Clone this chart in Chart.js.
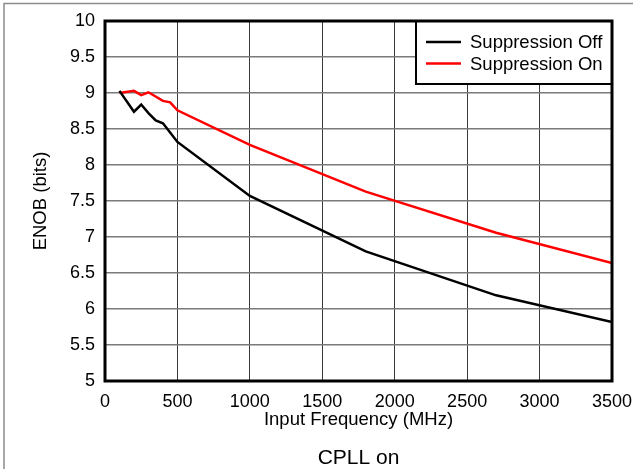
<!DOCTYPE html>
<html>
<head>
<meta charset="utf-8">
<script src="https://cdn.jsdelivr.net/npm/chart.js@4"></script>
<style>
    html, body { margin: 0; padding: 0; background: #fff; overflow: hidden; }
    #wrap { width: 633px; height: 469px; }
</style>
</head>
<body>
<div id="wrap"><canvas id="enob-chart" width="633" height="469"></canvas></div>
<script>
// ENOB vs input frequency, CPLL on

const freqOff = [100, 200, 250, 300, 350, 400, 500, 1000, 1800, 2700, 3500];
const enobOff = [9.03, 8.74, 8.84, 8.72, 8.62, 8.58, 8.32, 7.57, 6.80, 6.19, 5.82];

const freqOn = [100, 200, 250, 300, 400, 450, 500, 1000, 1800, 2700, 3500];
const enobOn = [9.00, 9.03, 8.97, 9.01, 8.89, 8.87, 8.76, 8.28, 7.63, 7.06, 6.64];

const seriesNames = ['Suppression Off', 'Suppression On'];
const seriesColors = ['#000000', '#ff0000'];

const xTicks = [0, 500, 1000, 1500, 2000, 2500, 3000, 3500];
const yTicks = [5, 5.5, 6, 6.5, 7, 7.5, 8, 8.5, 9, 9.5, 10];

const captionText = 'CPLL on';

const FONT = '"Liberation Sans", Arial, sans-serif';
Chart.defaults.font.family = FONT;
Chart.defaults.color = '#000';

function toPoints(xs, ys) {
    return xs.map((x, i) => ({ x: x, y: ys[i] }));
}

// frame, legend box and caption
const decorations = {
    id: 'decorations',
    beforeDraw(chart) {
        const ctx = chart.ctx;
        ctx.save();
        ctx.strokeStyle = '#8c8c8c';
        ctx.lineWidth = 1.5;
        ctx.strokeRect(4, 3.5, 700, 600);
        ctx.restore();
    },
    afterDraw(chart) {
        const ctx = chart.ctx;
        const a = chart.chartArea;
        ctx.save();

        // legend box in the top right corner
        const box = { left: 416, top: a.top, right: a.right, bottom: 84 };
        ctx.fillStyle = '#fff';
        ctx.fillRect(box.left, box.top, box.right - box.left, box.bottom - box.top);
        ctx.strokeStyle = '#000';
        ctx.lineWidth = 2;
        ctx.strokeRect(box.left, box.top, box.right - box.left, box.bottom - box.top);

        // plot border
        ctx.lineWidth = 3;
        ctx.strokeRect(a.left, a.top, a.right - a.left, a.bottom - a.top);

        // legend entries
        ctx.font = '18.5px ' + FONT;
        ctx.textBaseline = 'middle';
        ctx.textAlign = 'left';
        chart.data.datasets.forEach((ds, i) => {
            const y = 42 + i * 21.5;
            ctx.strokeStyle = ds.borderColor;
            ctx.lineWidth = 2.5;
            ctx.beginPath();
            ctx.moveTo(426, y);
            ctx.lineTo(461, y);
            ctx.stroke();
            ctx.fillStyle = '#000';
            ctx.fillText(ds.label, 470, y + 1);
        });

        // caption
        ctx.font = '21px ' + FONT;
        ctx.textAlign = 'center';
        ctx.fillText(captionText, (a.left + a.right) / 2, 458);
        ctx.restore();
    }
};

const ctx = document.getElementById('enob-chart').getContext('2d');

new Chart(ctx, {
    type: 'line',
    data: {
        datasets: [
            {
                label: seriesNames[0],
                data: toPoints(freqOff, enobOff),
                borderColor: seriesColors[0],
                borderWidth: 2.5,
                pointRadius: 0,
                tension: 0,
                fill: false,
            },
            {
                label: seriesNames[1],
                data: toPoints(freqOn, enobOn),
                borderColor: seriesColors[1],
                borderWidth: 2.5,
                pointRadius: 0,
                tension: 0,
                fill: false,
            }
        ]
    },
    options: {
        responsive: false,
        animation: false,
        layout: { padding: { left: 0, top: 21, right: 21, bottom: 38 } },
        plugins: {
            legend: { display: false },
            tooltip: { enabled: false }
        },
        scales: {
            x: {
                type: 'linear',
                min: 0,
                max: 3500,
                afterBuildTicks: scale => { scale.ticks = xTicks.map(v => ({ value: v })); },
                afterFit: scale => {
                    scale.height = 50;
                    scale.paddingLeft = 0;
                    scale.paddingRight = 0;
                },
                grid: { color: '#3a3a3a', lineWidth: 1, drawTicks: false },
                border: { display: false },
                ticks: {
                    padding: 10,
                    maxRotation: 0,
                    font: { size: 18 },
                    callback: value => String(value)
                },
                title: {
                    display: true,
                    text: 'Input Frequency (MHz)',
                    font: { size: 18.5 },
                    padding: { top: 0, bottom: 0 }
                }
            },
            y: {
                type: 'linear',
                min: 5,
                max: 10,
                afterBuildTicks: scale => { scale.ticks = yTicks.map(v => ({ value: v })); },
                afterFit: scale => {
                    scale.width = 105;
                    scale.paddingTop = 0;
                    scale.paddingBottom = 0;
                },
                grid: { color: '#7a7a7a', lineWidth: 1.5, drawTicks: false },
                border: { display: false },
                ticks: {
                    padding: 10,
                    font: { size: 18 },
                    callback: value => String(value)
                },
                title: {
                    display: true,
                    text: 'ENOB (bits)',
                    font: { size: 18.5 },
                    padding: { top: 30, bottom: 0 }
                }
            }
        }
    },
    plugins: [decorations]
});
</script>
</body>
</html>
